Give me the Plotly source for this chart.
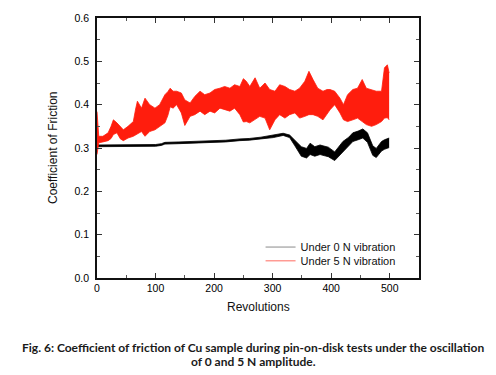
import plotly.graph_objects as go

# Black series (Under 0 N vibration): revolution, lower and upper envelope of the trace
black_x = [0, 20, 40, 60, 80, 100, 110, 116, 140, 160, 180, 200, 220, 244, 260, 280, 301, 318, 329, 338,
           344, 349, 358, 364, 372, 381, 386, 395, 406, 413, 420, 430, 437, 446, 454, 462, 467, 471, 477,
           482, 486, 491, 497, 499]
black_lo = [0.303, 0.303, 0.304, 0.303, 0.303, 0.304, 0.306, 0.309, 0.310, 0.311, 0.312, 0.313, 0.314, 0.317,
            0.318, 0.321, 0.324, 0.329, 0.324, 0.305, 0.291, 0.281, 0.277, 0.285, 0.281, 0.285, 0.283, 0.280,
            0.271, 0.281, 0.293, 0.305, 0.315, 0.319, 0.323, 0.313, 0.297, 0.283, 0.278, 0.286, 0.293, 0.297,
            0.299, 0.301]
black_hi = [0.307, 0.307, 0.308, 0.307, 0.307, 0.308, 0.310, 0.313, 0.314, 0.315, 0.316, 0.317, 0.318, 0.321,
            0.322, 0.325, 0.329, 0.334, 0.330, 0.317, 0.309, 0.303, 0.299, 0.311, 0.303, 0.307, 0.305, 0.302,
            0.291, 0.303, 0.315, 0.325, 0.335, 0.339, 0.344, 0.335, 0.319, 0.305, 0.299, 0.308, 0.315, 0.319,
            0.321, 0.323]

# Red series (Under 5 N vibration): revolution, lower and upper envelope of the trace
red_x = [0, 3, 10, 19, 24, 28, 34, 40, 45, 53, 62, 66, 69, 76, 82, 90, 99, 107, 116, 121, 125, 130, 136,
         144, 150, 159, 167, 176, 184, 193, 201, 210, 218, 227, 235, 244, 250, 255, 261, 270, 278, 287,
         295, 304, 312, 321, 329, 338, 346, 355, 362, 369, 377, 386, 393, 398, 406, 415, 421, 428, 437,
         445, 453, 460, 469, 477, 486, 491, 496, 499]
red_lo = [0.285, 0.312, 0.314, 0.317, 0.322, 0.331, 0.335, 0.321, 0.317, 0.323, 0.327, 0.330, 0.331, 0.338,
          0.327, 0.338, 0.342, 0.350, 0.358, 0.375, 0.395, 0.392, 0.400, 0.381, 0.352, 0.373, 0.377, 0.385,
          0.377, 0.385, 0.381, 0.392, 0.388, 0.385, 0.392, 0.377, 0.360, 0.361, 0.358, 0.365, 0.373, 0.369,
          0.342, 0.365, 0.377, 0.369, 0.377, 0.381, 0.369, 0.373, 0.377, 0.377, 0.373, 0.365, 0.380, 0.388,
          0.400, 0.381, 0.365, 0.361, 0.365, 0.369, 0.361, 0.354, 0.350, 0.354, 0.361, 0.369, 0.370, 0.365]
red_hi = [0.384, 0.327, 0.327, 0.335, 0.350, 0.365, 0.358, 0.350, 0.342, 0.350, 0.361, 0.390, 0.408, 0.392,
          0.415, 0.400, 0.392, 0.400, 0.423, 0.430, 0.438, 0.431, 0.431, 0.427, 0.411, 0.404, 0.419, 0.431,
          0.423, 0.427, 0.435, 0.438, 0.442, 0.438, 0.446, 0.442, 0.460, 0.454, 0.442, 0.462, 0.438, 0.450,
          0.435, 0.431, 0.446, 0.442, 0.435, 0.431, 0.438, 0.454, 0.477, 0.458, 0.438, 0.431, 0.435, 0.435,
          0.431, 0.415, 0.400, 0.423, 0.435, 0.438, 0.458, 0.438, 0.435, 0.431, 0.431, 0.485, 0.492, 0.473]

series_names = ["Under 0 N vibration", "Under 5 N vibration"]
x_ticks = [0, 100, 200, 300, 400, 500]
y_ticks = [0.0, 0.1, 0.2, 0.3, 0.4, 0.5, 0.6]

RED = "#ff1d0d"
BLACK = "#000000"
FONT = "Liberation Sans, Arial, sans-serif"

fig = go.Figure()

# Black band
fig.add_trace(go.Scatter(x=black_x, y=black_lo, mode="lines", line=dict(color=BLACK, width=0.8),
                         showlegend=False, hoverinfo="skip"))
fig.add_trace(go.Scatter(x=black_x, y=black_hi, mode="lines", line=dict(color=BLACK, width=0.8),
                         fill="tonexty", fillcolor=BLACK, showlegend=False, hoverinfo="skip"))
# Red band
fig.add_trace(go.Scatter(x=red_x, y=red_lo, mode="lines", line=dict(color=RED, width=0.8),
                         showlegend=False, hoverinfo="skip"))
fig.add_trace(go.Scatter(x=red_x, y=red_hi, mode="lines", line=dict(color=RED, width=0.8),
                         fill="tonexty", fillcolor=RED, showlegend=False, hoverinfo="skip"))

# Legend entries (one per legend box, to control the row spacing)
fig.add_trace(go.Scatter(x=[None], y=[None], mode="lines", name=series_names[0],
                         line=dict(color="#8a8a8a", width=1), legend="legend"))
fig.add_trace(go.Scatter(x=[None], y=[None], mode="lines", name=series_names[1],
                         line=dict(color="#ff6a60", width=1), legend="legend2"))

axis_common = dict(
    showline=True, linecolor="#111", linewidth=1.5, mirror="ticks",
    ticks="inside", ticklen=5, tickwidth=1, tickcolor="#333",
    showgrid=False, zeroline=False,
    tickfont=dict(family=FONT, size=10.5, color="#000"),
)

fig.update_xaxes(range=[0, 550], tickvals=x_ticks, ticktext=[str(v) for v in x_ticks],
                 minor=dict(dtick=50, tick0=0, ticks="inside", ticklen=3, tickcolor="#555"),
                 **axis_common)
fig.update_yaxes(range=[0, 0.6], tickvals=y_ticks, ticktext=[f"{v:.1f}" for v in y_ticks],
                 minor=dict(dtick=0.05, tick0=0, ticks="inside", ticklen=3, tickcolor="#555"),
                 ticklabelstandoff=4,
                 **axis_common)

legend_common = dict(xanchor="left", yanchor="middle", bgcolor="rgba(0,0,0,0)", borderwidth=0,
                     font=dict(family=FONT, size=11, color="#111"), itemwidth=30)

fig.update_layout(
    width=496, height=375,
    margin=dict(l=97, r=77, t=18, b=97),
    paper_bgcolor="white", plot_bgcolor="white",
    showlegend=True,
    legend=dict(x=0.508, y=0.119, **legend_common),
    legend2=dict(x=0.508, y=0.066, **legend_common),
    annotations=[
        dict(text="Coefficient of Friction", xref="paper", yref="paper", x=-0.1366, y=0.5,
             textangle=-90, showarrow=False, xanchor="center", yanchor="middle",
             font=dict(family=FONT, size=12, color="#111")),
        dict(text="Revolutions", xref="paper", yref="paper", x=0.5, y=-0.110,
             showarrow=False, xanchor="center", yanchor="middle",
             font=dict(family=FONT, size=12, color="#111")),
        dict(text="<b>Fig. 6: Coefficient of friction of Cu sample during pin-on-disk tests under the oscillation</b>",
             xref="paper", yref="paper", x=0.486, y=-0.268, showarrow=False,
             xanchor="center", yanchor="middle",
             font=dict(family="Lato, sans-serif", size=12, color="#1a1a1a")),
        dict(text="<b>of 0 and 5 N amplitude.</b>",
             xref="paper", yref="paper", x=0.486, y=-0.322, showarrow=False,
             xanchor="center", yanchor="middle",
             font=dict(family="Lato, sans-serif", size=12, color="#1a1a1a")),
    ],
)

fig.write_html("out.html", config={"displayModeBar": False},
               post_script="document.body.style.margin='0';document.body.style.overflow='hidden';")
